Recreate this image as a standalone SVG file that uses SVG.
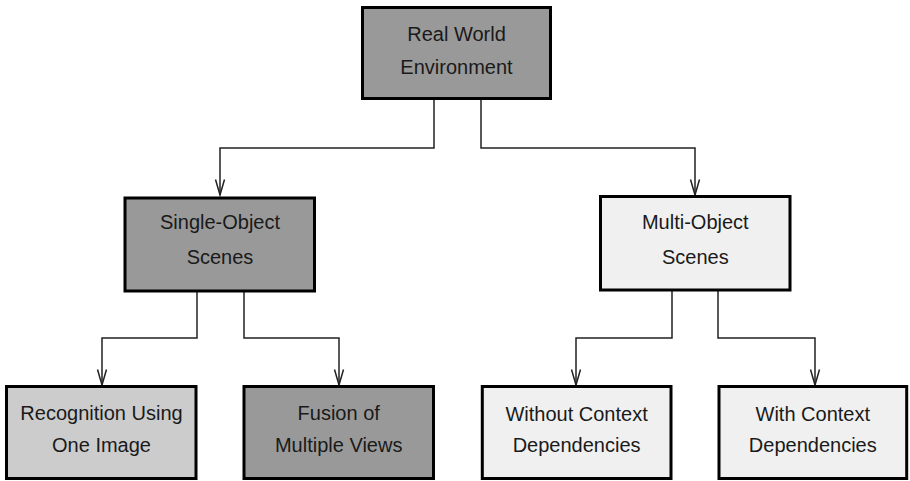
<svg xmlns="http://www.w3.org/2000/svg" width="910" height="481" viewBox="0 0 910 481">
<style>
  .box { stroke: #000; stroke-width: 3; }
  .dark { fill: #999999; }
  .mid { fill: #cccccc; }
  .light { fill: #f0f0f0; }
  .lbl { font-family: "Liberation Sans", Arial, sans-serif; font-size: 20px; fill: #1a1a1a; text-anchor: middle; }
  .conn { fill: none; stroke: #222; stroke-width: 1.5; marker-end: url(#arr); }
</style>
<defs>
  <marker id="arr" markerUnits="userSpaceOnUse" markerWidth="20" markerHeight="14" viewBox="-18 -7 20 14" refX="0" refY="0" orient="auto">
    <path d="M-15.5,-4.5 L0,0 L-15.5,4.5" fill="none" stroke="#222" stroke-width="1.5"/>
  </marker>
</defs>
<rect width="910" height="481" fill="#ffffff"/>
<g id="connectors">
  <polyline class="conn" points="434,100 434,148 220,148 220,195"/>
  <polyline class="conn" points="481,100 481,148 695,148 695,195"/>
  <polyline class="conn" points="197,292 197,338 102,338 102,385"/>
  <polyline class="conn" points="244,292 244,338 339,338 339,385"/>
  <polyline class="conn" points="672,290 672,338 576,338 576,385"/>
  <polyline class="conn" points="718,290 718,338 815,338 815,385"/>
</g>
<g id="real-world">
  <rect class="box dark" x="362.5" y="7.5" width="188" height="91"/>
  <text class="lbl" x="456.5" y="41">Real World</text>
  <text class="lbl" x="456.5" y="74">Environment</text>
</g>
<g id="single-object">
  <rect class="box dark" x="125" y="198" width="189.5" height="93"/>
  <text class="lbl" x="220" y="229">Single-Object</text>
  <text class="lbl" x="220" y="263.5">Scenes</text>
</g>
<g id="multi-object">
  <rect class="box light" x="600.5" y="196.5" width="189.5" height="93.5"/>
  <text class="lbl" x="695.3" y="229">Multi-Object</text>
  <text class="lbl" x="695.3" y="263.5">Scenes</text>
</g>
<g id="recognition">
  <rect class="box mid" x="6.5" y="386.5" width="189.5" height="92"/>
  <text class="lbl" x="101.5" y="419.5">Recognition Using</text>
  <text class="lbl" x="101.5" y="451.5">One Image</text>
</g>
<g id="fusion">
  <rect class="box dark" x="244" y="386.5" width="189.5" height="92"/>
  <text class="lbl" x="338.7" y="420">Fusion of</text>
  <text class="lbl" x="338.7" y="451.5">Multiple Views</text>
</g>
<g id="without-context">
  <rect class="box light" x="482.3" y="386.5" width="188.7" height="92"/>
  <text class="lbl" x="576.6" y="420.5">Without Context</text>
  <text class="lbl" x="576.6" y="451.5">Dependencies</text>
</g>
<g id="with-context">
  <rect class="box light" x="719" y="386.5" width="187.7" height="92"/>
  <text class="lbl" x="812.8" y="420.5">With Context</text>
  <text class="lbl" x="812.8" y="451.5">Dependencies</text>
</g>
</svg>
